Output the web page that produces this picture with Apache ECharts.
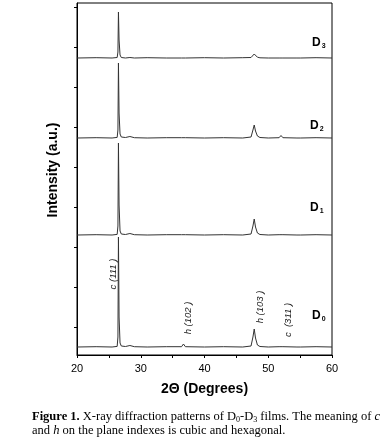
<!DOCTYPE html>
<html>
<head>
<meta charset="utf-8">
<script src="https://cdn.jsdelivr.net/npm/echarts@6/dist/echarts.min.js"></script>
<style>
  html, body { margin: 0; padding: 0; background: #fff; }
  #chart { width: 390px; height: 440px; }
</style>
</head>
<body>
<div id="chart"></div>
<script>
// 2theta sample positions (degrees)
var twoTheta = [20, 23, 25.5, 26.3, 26.42, 26.5, 26.6, 26.75, 26.95, 27.6, 28.3, 29, 31, 34, 36.4, 36.7, 37.0, 40, 43, 46, 47.3, 47.6, 47.8, 48.0, 48.3, 48.7, 50, 51.7, 52.0, 52.3, 54.5, 54.8, 55.1, 57.5, 60]
// intensities above each pattern's own baseline (a.u.)
var d3 = [0, 0.3, 0, 0.5, 6, 46, 18, 3, 0.5, 0, 0.5, 0, 0.3, 0, 0, 1, 0, 0.3, 0, 0.3, 0.5, 2.5, 4, 2.5, 0.8, 0.2, 0, 0, 0.8, 0, 0, 0.5, 0, 0.3, 0]
var d2 = [0, 0.3, 0, 0.6, 8, 75, 25, 4, 1, 0.5, 1.5, 0.3, 0, 0.3, 0.3, 2, 0.3, 0, 0.3, 0, 1, 8, 13, 7, 2, 0.5, 0, 0.3, 2.5, 0.3, 0, 1.5, 0, 0.3, 0]
var d1 = [0, 0.3, 0, 0.6, 9, 92, 30, 4, 1, 0.5, 1.5, 0.3, 0, 0.3, 0.3, 2, 0.3, 0, 0.3, 0, 1, 9, 16, 8, 2, 0.5, 0, 0.3, 1.5, 0.3, 0, 1.5, 0, 0.3, 0]
var d0 = [0, 0.3, 0, 0.6, 10, 110, 30, 4, 1, 0.5, 1.5, 0.3, 0, 0.3, 0.3, 3, 0.3, 0, 0.3, 0, 1, 10, 18, 9, 2, 0.5, 0, 0.3, 1.5, 0.3, 0, 1.5, 0, 0.3, 0]
var seriesNames = ['D3', 'D2', 'D1', 'D0']
var offsets = [297, 217, 120, 8]
var yTicks = [28, 68, 108, 148, 188, 228, 268, 308, 348]

var chart = echarts.init(document.getElementById('chart'))
var patterns = [d3, d2, d1, d0]
var series = []
for (var i = 0; i < patterns.length; i++) {
  var pts = []
  for (var j = 0; j < twoTheta.length; j++) {
    pts.push([twoTheta[j], offsets[i] + patterns[i][j]])
  }
  series.push({
    name: seriesNames[i], type: 'line', data: pts,
    symbol: 'none', silent: true,
    lineStyle: { color: '#333', width: 1 }
  })
}

function dLabel(x, y, sub) {
  return {
    type: 'text', left: x, top: y,
    style: {
      text: '{d|D}{s|' + sub + '}',
      rich: {
        d: { fontFamily: 'Liberation Sans', fontWeight: 'bold', fontSize: 12, fill: '#000' },
        s: { fontFamily: 'Liberation Sans', fontWeight: 'bold', fontSize: 7, fill: '#000', verticalAlign: 'bottom', padding: [6, 0, 0, 1] }
      }
    }
  }
}
function hkl(x, y, txt) {
  return {
    type: 'text', x: x, y: y, rotation: Math.PI / 2,
    style: {
      text: txt, fontFamily: 'Liberation Sans', fontStyle: 'italic', fontSize: 9.5,
      fill: '#222', align: 'center', verticalAlign: 'middle'
    }
  }
}

var serif = 'Liberation Serif'
chart.setOption({
  backgroundColor: '#fff',
  animation: false,
  grid: {
    left: 77, right: 58, top: 3, bottom: 85,
    show: true, borderColor: '#000', borderWidth: 1
  },
  xAxis: {
    type: 'value', min: 20, max: 60, interval: 10,
    name: '2Θ (Degrees)', nameLocation: 'middle', nameGap: 27,
    nameTextStyle: { fontFamily: 'Liberation Sans', fontWeight: 'bold', fontSize: 14, color: '#000' },
    axisLine: { lineStyle: { color: '#000', width: 1 } },
    axisTick: { length: 3, lineStyle: { color: '#000' } },
    minorTick: { show: true, splitNumber: 2, length: 3, lineStyle: { color: '#000' } },
    axisLabel: { fontFamily: 'Liberation Sans', fontSize: 11, color: '#000', margin: 8 },
    splitLine: { show: false }
  },
  yAxis: {
    type: 'value', min: 0, max: 352,
    axisLine: { show: true, lineStyle: { color: '#000', width: 1 } },
    axisTick: { show: true, length: 3, customValues: yTicks, lineStyle: { color: '#000' } },
    axisLabel: { show: false },
    splitLine: { show: false }
  },
  series: series,
  graphic: [
    {
      type: 'text', x: 53, y: 170, rotation: Math.PI / 2,
      style: {
        text: 'Intensity (a.u.)', fontFamily: 'Liberation Sans', fontWeight: 'bold',
        fontSize: 14, fill: '#000', align: 'center', verticalAlign: 'middle'
      }
    },
    dLabel(312, 37, '3'),
    dLabel(310, 120, '2'),
    dLabel(310, 202, '1'),
    dLabel(312, 310, '0'),
    hkl(113, 274, 'c (111 )'),
    hkl(188, 318, 'h (102 )'),
    hkl(260, 307, 'h (103 )'),
    hkl(288, 320, 'c  (311 )'),
    {
      type: 'text', left: 32, top: 410,
      style: {
        text: '{b|Figure 1.} X-ray diffraction patterns of D{s|0}-D{s|3} films. The meaning of {i|c}\nand {i|h} on the plane indexes is cubic and hexagonal.',
        fontFamily: serif, fontSize: 12.5, fill: '#000', lineHeight: 14,
        rich: {
          b: { fontFamily: serif, fontWeight: 'bold', fontSize: 12.5, fill: '#000' },
          i: { fontFamily: serif, fontStyle: 'italic', fontSize: 12.5, fill: '#000' },
          s: { fontFamily: serif, fontSize: 8, fill: '#000', verticalAlign: 'bottom', padding: [5, 0, 0, 0] }
        }
      }
    }
  ]
})
</script>
</body>
</html>
